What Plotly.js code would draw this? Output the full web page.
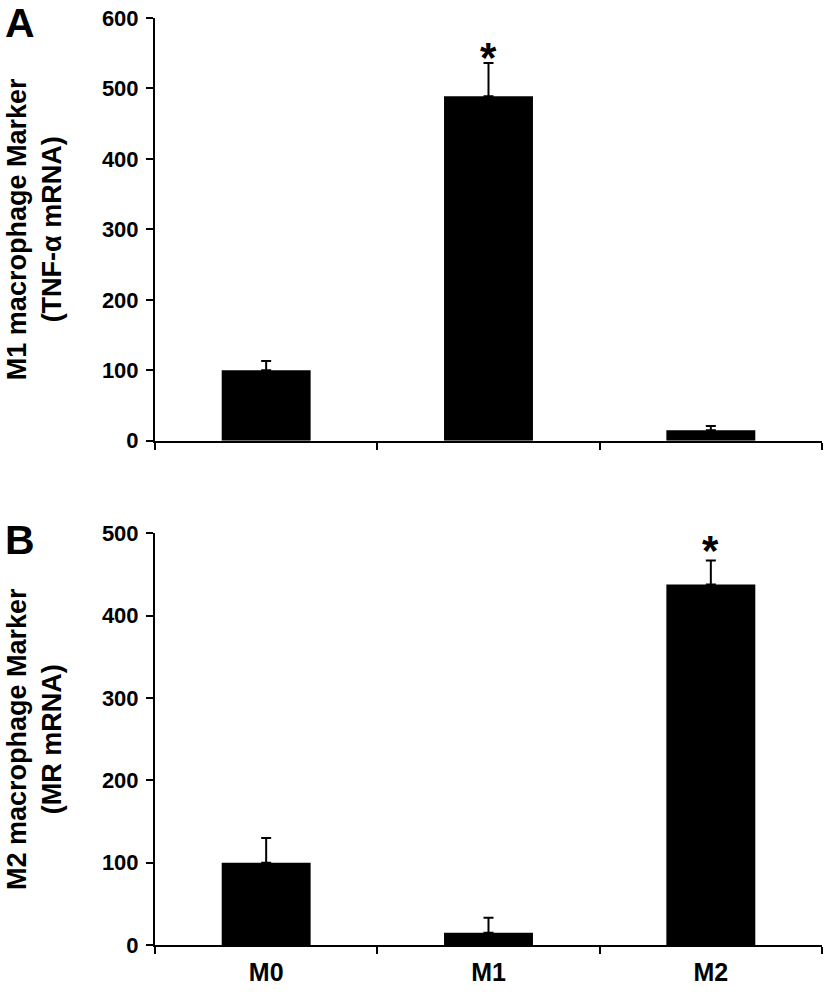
<!DOCTYPE html>
<html>
<head>
<meta charset="utf-8">
<script src="https://cdn.plot.ly/plotly-3.0.1.min.js"></script>
<style>html,body{margin:0;padding:0;background:#fff;}#chart{width:826px;height:994px;}</style>
</head>
<body>
<div id="chart"></div>
<script>
// ---- data ----
const categories = ['M0', 'M1', 'M2'];
const tnfMean = [100, 489, 15];
const tnfErr = [13, 47, 6];
const mrMean = [100, 15, 438];
const mrErr = [30, 18, 29];
const panelLabels = ['A', 'B'];
const titleA = 'M1 macrophage Marker<br>(TNF-α mRNA)';
const titleB = 'M2 macrophage Marker<br>(MR mRNA)';
const sigA = [false, true, false];
const sigB = [false, false, true];

const FONT = '"Liberation Sans", Arial, Helvetica, sans-serif';
const zeros = categories.map(() => 0);

function barTrace(y, err, xa, ya) {
  return {
    type: 'bar', x: categories, y: y, xaxis: xa, yaxis: ya,
    width: 0.4,
    marker: {color: '#000', line: {width: 0}},
    error_y: {type: 'data', symmetric: false, array: err, arrayminus: zeros,
              color: '#000', thickness: 2, width: 5, visible: true},
    showlegend: false, hoverinfo: 'skip'
  };
}

const traces = [
  barTrace(tnfMean, tnfErr, 'x', 'y'),
  barTrace(mrMean, mrErr, 'x2', 'y2')
];

const axisCommon = {
  showline: true, linecolor: '#000', linewidth: 2,
  ticks: 'outside', ticklen: 7, tickwidth: 2, tickcolor: '#000',
  showgrid: false, zeroline: false, fixedrange: true,
  ticklabelstandoff: 3,
  tickfont: {family: FONT, size: 22, color: '#000', weight: 700}
};

const xCommon = Object.assign({}, axisCommon, {
  type: 'category', range: [-0.5, 2.5], tickson: 'boundaries',
  ticklabelstandoff: 4,
  tickfont: {family: FONT, size: 25, color: '#000', weight: 700}
});

const titleFont = {family: FONT, size: 27, color: '#000', weight: 700};

const annotations = [];
function addStars(mean, err, sig, xa, ya, shift) {
  categories.forEach((c, i) => {
    if (sig[i]) annotations.push({
      x: c, y: mean[i] + err[i], xref: xa, yref: ya, text: '*', showarrow: false,
      yanchor: 'middle', yshift: shift,
      font: {family: FONT, size: 42, color: '#000', weight: 700}
    });
  });
}
addStars(tnfMean, tnfErr, sigA, 'x', 'y', 6);
addStars(mrMean, mrErr, sigB, 'x2', 'y2', 10);

annotations.push({text: panelLabels[0], xref: 'paper', yref: 'paper', x: -0.2279, y: 0.9945,
  xanchor: 'left', yanchor: 'middle', showarrow: false,
  font: {family: FONT, size: 41, color: '#000', weight: 700}});
annotations.push({text: panelLabels[1], xref: 'paper', yref: 'paper', x: -0.2279, y: 0.4374,
  xanchor: 'left', yanchor: 'middle', showarrow: false,
  font: {family: FONT, size: 41, color: '#000', weight: 700}});

const layout = {
  width: 826, height: 994,
  margin: {l: 155, r: 4, t: 18, b: 49},
  paper_bgcolor: '#fff', plot_bgcolor: '#fff',
  showlegend: false,
  bargap: 0.6,
  xaxis: Object.assign({}, xCommon, {anchor: 'y', showticklabels: false}),
  yaxis: Object.assign({}, axisCommon, {domain: [0.544, 1], range: [0, 600], dtick: 100,
    anchor: 'x', title: {text: titleA, font: titleFont, standoff: 32}}),
  xaxis2: Object.assign({}, xCommon, {anchor: 'y2'}),
  yaxis2: Object.assign({}, axisCommon, {domain: [0, 0.444], range: [0, 500], dtick: 100,
    anchor: 'x2', title: {text: titleB, font: titleFont, standoff: 32}}),
  annotations: annotations
};

Plotly.newPlot('chart', traces, layout, {displayModeBar: false, staticPlot: true});
</script>
</body>
</html>
